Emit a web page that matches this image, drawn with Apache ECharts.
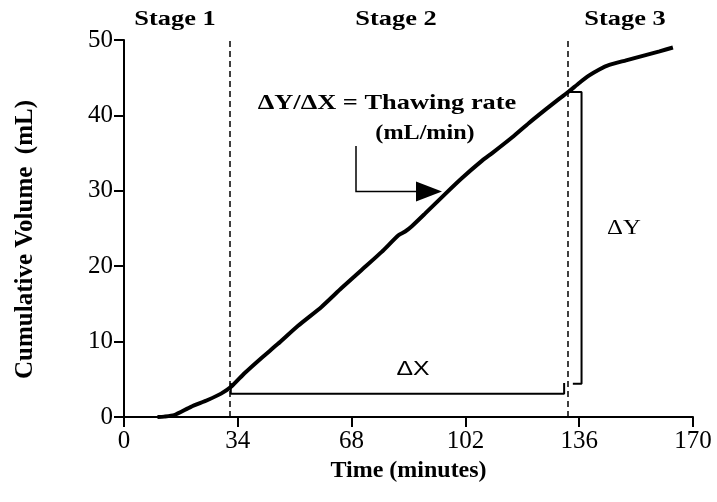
<!DOCTYPE html>
<html>
<head>
<meta charset="utf-8">
<script src="https://cdn.jsdelivr.net/npm/echarts@6/dist/echarts.min.js"></script>
<style>
html,body{margin:0;padding:0;background:#fff;}
#chart{width:717px;height:502px;}
</style>
</head>
<body>
<div id="chart"></div>
<script>
// Data
var timeMin = [10, 12, 15, 20, 25, 29, 32, 36, 41, 46, 52, 59, 65, 71, 77, 82, 84, 86, 90, 96, 101, 107, 110, 116, 121, 126, 130, 133, 136, 139, 142, 145, 150, 155, 160, 164];
var volumeMl = [0, 0.05, 0.25, 1.35, 2.25, 3.1, 4.0, 5.8, 7.8, 9.7, 12.1, 14.6, 17.1, 19.5, 21.9, 24.1, 24.6, 25.3, 27.0, 29.6, 31.7, 34.0, 35.0, 37.1, 39.0, 40.8, 42.2, 43.2, 44.3, 45.3, 46.1, 46.7, 47.3, 47.9, 48.5, 49.0];
var xTicks = [0, 34, 68, 102, 136, 170];
var yTicks = [0, 10, 20, 30, 40, 50];
var stageBounds = [31.7, 132.7];
var deltaXBracket = [[31.9, 4.5], [31.9, 3.1], [131.5, 3.1], [131.5, 4.5]];
var deltaYBracket = [[134.1, 4.4], [136.7, 4.4], [136.7, 43.1], [132.7, 43.1]];
var stageLabels = ['Stage 1', 'Stage 2', 'Stage 3'];

var curve = timeMin.map(function (t, i) { return [t, volumeMl[i]]; });
var serif = 'Liberation Serif';

var chart = echarts.init(document.getElementById('chart'), null, {renderer: 'canvas'});
chart.setOption({
  animation: false,
  backgroundColor: '#fff',
  grid: {left: 124, right: 24, top: 40, bottom: 85, containLabel: false},
  xAxis: {
    type: 'value', min: xTicks[0], max: xTicks[xTicks.length - 1], interval: 34,
    name: 'Time (minutes)', nameLocation: 'middle', nameGap: 38,
    nameTextStyle: {fontFamily: serif, fontWeight: 'bold', fontSize: 24, color: '#000'},
    axisLine: {lineStyle: {color: '#000', width: 2}},
    axisTick: {inside: false, length: 10, lineStyle: {color: '#000', width: 2}},
    axisLabel: {margin: 12, fontFamily: serif, fontSize: 25, color: '#000'},
    splitLine: {show: false}
  },
  yAxis: {
    type: 'value', min: yTicks[0], max: yTicks[yTicks.length - 1], interval: 10,
    name: 'Cumulative Volume  (mL)', nameLocation: 'middle', nameGap: 86,
    nameTextStyle: {fontFamily: serif, fontWeight: 'bold', fontSize: 25, color: '#000', padding: [0, 22, 0, 0]},
    axisLine: {show: true, lineStyle: {color: '#000', width: 2}},
    axisTick: {show: true, inside: false, length: 10, lineStyle: {color: '#000', width: 2}},
    axisLabel: {margin: 11, fontFamily: serif, fontSize: 25, color: '#000'},
    splitLine: {show: false}
  },
  series: [
    {
      type: 'line', data: curve, showSymbol: false, smooth: 0.2,
      lineStyle: {color: '#000', width: 4},
      z: 5,
      markLine: {
        silent: true, symbol: 'none',
        label: {show: false},
        lineStyle: {color: '#000', type: [6, 4], width: 1.5},
        data: stageBounds.map(function (b) { return {xAxis: b}; })
      }
    },
    {
      type: 'line', data: deltaXBracket, showSymbol: false,
      lineStyle: {color: '#000', width: 2}, z: 4
    },
    {
      type: 'line', data: deltaYBracket, showSymbol: false,
      lineStyle: {color: '#000', width: 2}, z: 4
    }
  ],
  graphic: [
    {type: 'text', x: 175, y: 19, scaleX: 1.2, style: {text: stageLabels[0], font: 'bold 22px "Liberation Serif"', fill: '#000', align: 'center', verticalAlign: 'middle'}},
    {type: 'text', x: 396, y: 19, scaleX: 1.2, style: {text: stageLabels[1], font: 'bold 22px "Liberation Serif"', fill: '#000', align: 'center', verticalAlign: 'middle'}},
    {type: 'text', x: 625, y: 19, scaleX: 1.2, style: {text: stageLabels[2], font: 'bold 22px "Liberation Serif"', fill: '#000', align: 'center', verticalAlign: 'middle'}},
    {type: 'text', x: 387, y: 103, scaleX: 1.2, style: {text: 'ΔY/ΔX = Thawing rate', font: 'bold 22px "Liberation Serif"', fill: '#000', align: 'center', verticalAlign: 'middle'}},
    {type: 'text', x: 425, y: 134, scaleX: 1.15, style: {text: '(mL/min)', font: 'bold 21px "Liberation Serif"', fill: '#000', align: 'center', verticalAlign: 'middle'}},
    {type: 'text', x: 413, y: 369, scaleX: 1.18, style: {text: 'ΔX', font: '21px "Liberation Sans"', fill: '#000', align: 'center', verticalAlign: 'middle'}},
    {type: 'text', x: 624, y: 228, scaleX: 1.18, style: {text: 'ΔY', font: '21px "Liberation Serif"', fill: '#000', align: 'center', verticalAlign: 'middle'}},
    {type: 'polyline', shape: {points: [[356, 146], [356, 191.5], [418, 191.5]]}, style: {stroke: '#000', lineWidth: 1.5, fill: null}},
    {type: 'polygon', shape: {points: [[416, 181.5], [442, 191.5], [416, 201.5]]}, style: {fill: '#000'}}
  ]
});
</script>
</body>
</html>
